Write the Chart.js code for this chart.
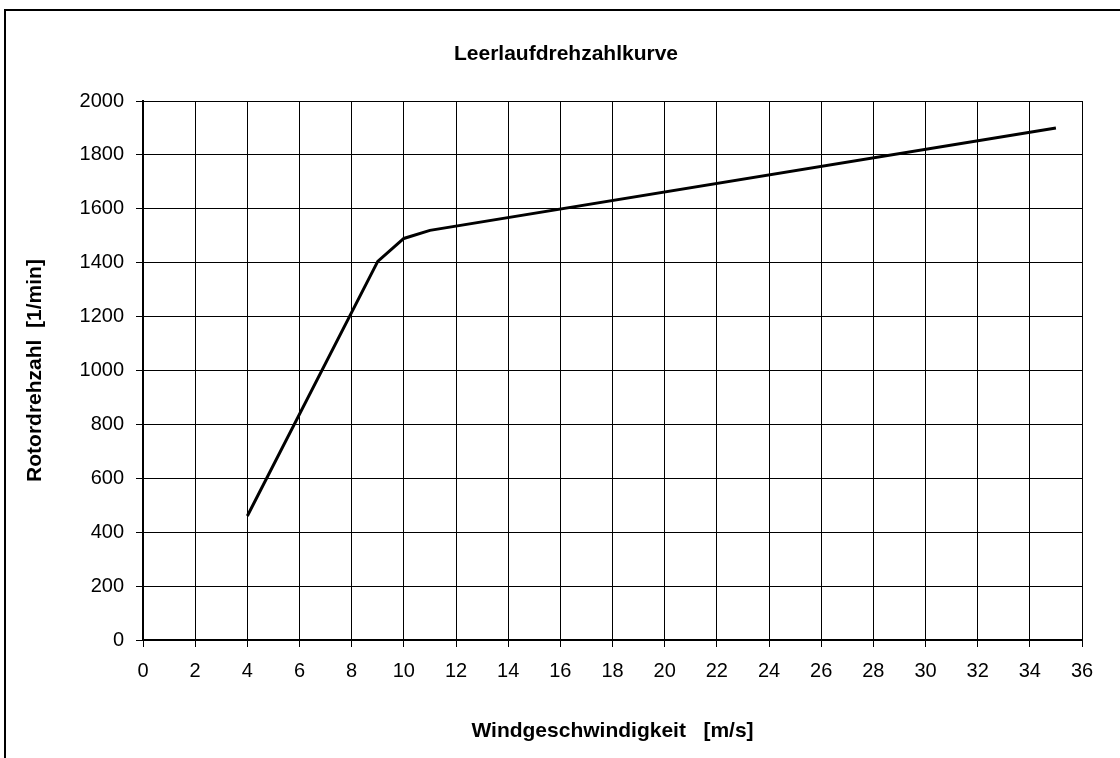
<!DOCTYPE html>
<html>
<head>
<meta charset="utf-8">
<script src="https://cdn.jsdelivr.net/npm/chart.js@4/dist/chart.umd.min.js"></script>
<style>
  html, body { margin: 0; padding: 0; background: #fff; }
  canvas { display: block; }
</style>
</head>
<body>
<canvas id="c" width="1120" height="758"></canvas>
<script>
// Data
const windSpeed = [4, 9, 10, 11, 35];            // m/s
const rotorSpeed = [460, 1405, 1490, 1520, 1900]; // 1/min
const chartTitle = 'Leerlaufdrehzahlkurve';
const xTitle = 'Windgeschwindigkeit   [m/s]';
const yTitle = 'Rotordrehzahl  [1/min]';
const xMin = 0, xMax = 36, xStep = 2;
const yMin = 0, yMax = 2000, yStep = 200;

const FONT = '"Liberation Sans", Arial, Helvetica, sans-serif';

const decor = {
  id: 'decor',
  beforeDraw(chart) {
    const ctx = chart.ctx;
    ctx.save();
    ctx.fillStyle = '#fff';
    ctx.fillRect(0, 0, chart.width, chart.height);
    ctx.restore();
  },
  afterDraw(chart) {
    const ctx = chart.ctx;
    ctx.save();
    ctx.strokeStyle = '#000';
    ctx.lineWidth = 2;
    ctx.strokeRect(5, 10, 1300, 900);
    ctx.fillStyle = '#000';
    ctx.font = 'bold 21px ' + FONT;
    ctx.textAlign = 'center';
    ctx.textBaseline = 'alphabetic';
    ctx.fillText(chartTitle, 566, 60);
    ctx.restore();
  }
};

const points = windSpeed.map((x, i) => ({ x: x, y: rotorSpeed[i] }));

new Chart(document.getElementById('c'), {
  type: 'line',
  data: {
    datasets: [{
      data: points,
      borderColor: '#000',
      borderWidth: 3,
      pointRadius: 0,
      tension: 0,
      fill: false
    }]
  },
  options: {
    responsive: false,
    animation: false,
    devicePixelRatio: 1,
    layout: { padding: { top: 101, right: 38, left: 0, bottom: 0 } },
    plugins: {
      legend: { display: false },
      tooltip: { enabled: false },
      title: { display: false }
    },
    scales: {
      x: {
        type: 'linear',
        min: xMin, max: xMax,
        afterFit(s) { s.height = 118; },
        ticks: { stepSize: xStep, color: '#000', padding: 12, font: { family: FONT, size: 20 }, maxRotation: 0, autoSkip: false, callback: v => String(v) },
        grid: { color: '#000', lineWidth: 1, tickLength: 7 },
        border: { display: true, color: '#000', width: 2 },
        title: { display: true, text: xTitle, color: '#000', font: { family: FONT, size: 21, weight: 'bold' }, padding: { top: 0, bottom: 14 } }
      },
      y: {
        type: 'linear',
        min: yMin, max: yMax,
        afterFit(s) { s.width = 143; },
        ticks: { stepSize: yStep, color: '#000', padding: 12, font: { family: FONT, size: 20 }, autoSkip: false, callback: v => String(v) },
        grid: { color: '#000', lineWidth: 1, tickLength: 7 },
        border: { display: true, color: '#000', width: 2 },
        title: { display: true, text: yTitle, color: '#000', font: { family: FONT, size: 21, weight: 'bold' }, padding: { top: 23, bottom: 0 } }
      }
    }
  },
  plugins: [decor]
});
</script>
</body>
</html>
